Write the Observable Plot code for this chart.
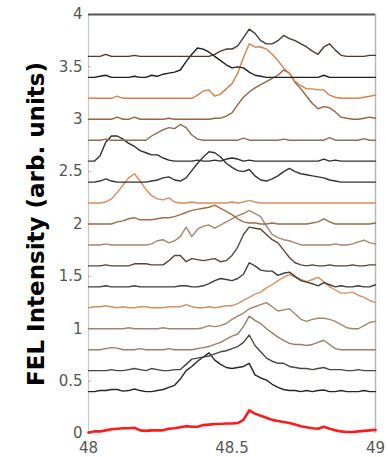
<!DOCTYPE html>
<html><head><meta charset="utf-8">
<script src="https://cdn.jsdelivr.net/npm/d3@7"></script>
<script src="https://cdn.jsdelivr.net/npm/@observablehq/plot@0.6"></script>
<style>body{margin:0;background:#fff}</style>
</head><body><div id="chart"></div>
<script>
const energy = [
48.00,48.02,48.04,48.06,48.08,48.10,48.12,48.14,48.16,48.18,
48.20,48.22,48.24,48.26,48.28,48.30,48.32,48.34,48.36,48.38,
48.40,48.42,48.44,48.46,48.48,48.50,48.52,48.54,48.56,48.58,
48.60,48.62,48.64,48.66,48.68,48.70,48.72,48.74,48.76,48.78,
48.80,48.82,48.84,48.86,48.88,48.90,48.92,48.94,48.96,48.98,49.00];

const offsets = [0, 0.4, 0.6, 0.8, 1.0, 1.2, 1.4, 1.6, 1.8, 2.0, 2.2, 2.4, 2.6, 2.8, 3.0, 3.2, 3.4, 3.6];
const colors = ["#ff1a1a","#262626","#4d4540","#9a7d6c","#a8846e","#d88f62","#3d3d3d","#5a4535","#a8866f",
                "#a46a48","#dc8a5c","#333333","#2e2e2e","#8c6c58","#9a6342","#d98048","#1f1f1f","#4a3a30"];

const s00 = [0.01,0.02,0.02,0.03,0.04,0.045,0.05,0.05,0.055,0.03,
0.025,0.03,0.03,0.03,0.045,0.05,0.06,0.07,0.065,0.065,
0.08,0.085,0.09,0.09,0.095,0.095,0.10,0.13,0.22,0.19,
0.17,0.15,0.13,0.12,0.11,0.10,0.085,0.07,0.06,0.05,
0.045,0.065,0.045,0.03,0.02,0.015,0.015,0.02,0.025,0.03,0.035];
const s04 = [0.00,0.00,0.01,0.01,0.02,0.02,0.005,0.01,0.025,0.01,
0.00,0.00,0.01,0.02,0.04,0.06,0.12,0.20,0.24,0.29,
0.33,0.37,0.30,0.26,0.23,0.22,0.23,0.24,0.27,0.16,
0.13,0.11,0.07,0.04,0.02,0.01,0.01,0.00,0.01,0.00,
0.01,0.015,0.00,0.00,0.01,0.00,0.00,0.00,0.01,0.00,0.00];
const s06 = [0.00,0.00,0.00,0.00,0.01,0.00,0.00,0.01,0.02,0.01,
0.00,0.02,0.01,0.00,0.00,0.01,0.01,0.06,0.11,0.12,
0.13,0.14,0.16,0.18,0.19,0.21,0.23,0.27,0.34,0.24,
0.18,0.12,0.09,0.07,0.07,0.04,0.03,0.02,0.02,0.01,
0.02,0.03,0.01,0.01,0.01,0.00,0.00,0.01,0.00,0.00,0.00];
const s08 = [0.00,0.00,0.00,0.01,0.02,0.015,0.00,0.00,0.00,0.01,
0.00,0.00,0.00,0.00,0.01,0.00,0.00,0.00,0.00,0.01,
0.02,0.03,0.05,0.07,0.10,0.13,0.15,0.22,0.32,0.28,
0.25,0.20,0.16,0.12,0.09,0.06,0.05,0.05,0.04,0.05,
0.07,0.09,0.05,0.01,0.00,0.00,0.00,0.00,0.00,0.00,0.00];
const s10 = [0.00,0.00,0.00,0.00,0.00,0.00,0.00,0.01,0.00,0.00,
0.00,0.00,0.00,0.01,0.00,0.00,0.00,0.00,0.00,0.00,
0.01,0.03,0.02,0.03,0.05,0.09,0.12,0.15,0.19,0.21,
0.23,0.25,0.21,0.17,0.18,0.19,0.14,0.09,0.07,0.09,
0.10,0.10,0.09,0.07,0.04,0.01,0.00,0.00,0.03,0.06,0.07];
const s12 = [0.00,0.01,0.01,0.02,0.01,0.00,0.01,0.00,0.00,0.01,
0.01,0.00,0.00,0.00,0.01,0.01,0.01,0.03,0.01,0.00,
0.00,0.01,0.00,0.01,0.02,0.02,0.04,0.07,0.10,0.13,
0.15,0.19,0.22,0.26,0.29,0.32,0.29,0.27,0.25,0.27,
0.29,0.25,0.20,0.17,0.14,0.14,0.15,0.12,0.10,0.07,0.05];
const s14 = [0.00,0.00,0.00,0.01,0.00,0.00,0.00,0.00,0.01,0.00,
0.00,0.00,0.00,0.00,0.00,0.00,0.01,0.01,0.00,0.00,
0.01,0.03,0.06,0.08,0.07,0.06,0.08,0.12,0.23,0.20,
0.16,0.15,0.15,0.11,0.13,0.14,0.10,0.06,0.045,0.03,
0.01,0.04,0.02,0.00,0.01,0.00,0.00,0.01,0.00,0.00,0.02];
const s16 = [0.00,0.00,0.00,0.01,0.00,0.00,0.00,0.00,0.02,0.02,
0.02,0.01,0.01,0.01,0.05,0.10,0.10,0.04,0.07,0.06,
0.05,0.06,0.07,0.04,0.05,0.10,0.18,0.30,0.37,0.36,
0.35,0.30,0.25,0.22,0.15,0.08,0.03,0.01,0.00,0.01,
0.00,0.00,0.01,0.00,0.00,0.00,0.01,0.00,0.00,0.01,0.01];
const s18 = [0.00,0.00,0.00,0.01,0.00,0.00,0.00,0.00,0.00,0.00,
0.00,0.01,0.04,0.05,0.02,0.04,0.08,0.17,0.08,0.15,
0.18,0.19,0.16,0.19,0.22,0.25,0.28,0.30,0.33,0.30,
0.27,0.18,0.10,0.07,0.05,0.04,0.02,0.00,0.00,0.00,
0.00,0.00,0.00,0.01,0.00,0.00,0.01,0.03,0.045,0.02,0.01];
const s20 = [0.00,0.00,0.00,0.00,0.00,0.02,0.03,0.05,0.06,0.04,
0.04,0.04,0.05,0.06,0.06,0.07,0.09,0.11,0.13,0.14,
0.15,0.16,0.18,0.15,0.12,0.09,0.05,0.02,0.01,0.01,
0.00,0.00,0.01,0.00,0.00,0.00,0.00,0.00,0.00,0.01,
0.02,0.05,0.02,0.00,0.00,0.00,0.00,0.00,0.00,0.00,0.01];
const s22 = [0.00,0.00,0.00,0.01,0.04,0.10,0.17,0.24,0.28,0.21,
0.13,0.07,0.04,0.03,0.05,0.01,0.00,0.00,0.01,0.00,
0.00,0.00,0.00,0.00,0.00,0.01,0.00,0.01,0.025,0.01,
0.00,0.00,0.00,0.00,0.00,0.00,0.00,0.00,0.00,0.00,
0.00,0.00,0.00,0.00,0.00,0.00,0.00,0.00,0.00,0.00,0.00];
const s24 = [0.00,0.00,0.01,0.03,0.01,0.00,0.00,0.00,0.00,0.00,
0.00,0.01,0.02,0.04,0.05,0.02,0.01,0.04,0.11,0.18,
0.24,0.29,0.28,0.24,0.18,0.14,0.11,0.10,0.12,0.06,
0.02,0.01,0.03,0.06,0.10,0.13,0.10,0.08,0.07,0.06,
0.05,0.04,0.02,0.01,0.00,0.00,0.00,0.00,0.00,0.00,0.00];
const s26 = [0.00,0.00,0.05,0.18,0.24,0.24,0.21,0.17,0.14,0.10,
0.08,0.06,0.06,0.03,0.01,0.00,0.00,0.00,0.00,0.01,
0.00,0.00,0.01,0.00,0.02,0.03,0.02,0.00,0.01,0.00,
0.00,0.00,0.00,0.00,0.00,0.00,0.00,0.00,0.00,0.00,
0.00,0.02,0.00,0.01,0.00,0.00,0.00,0.00,0.00,0.00,0.00];
const s28 = [0.00,0.00,0.00,0.01,0.00,0.00,0.00,0.00,0.00,0.00,
0.00,0.04,0.07,0.10,0.12,0.11,0.15,0.12,0.05,0.01,
0.00,0.00,0.00,0.00,0.00,0.00,0.00,0.02,0.00,0.00,
0.00,0.00,0.00,0.00,0.01,0.00,0.00,0.00,0.00,0.00,
0.00,0.00,0.025,0.00,0.00,0.00,0.00,0.00,0.015,0.00,0.00];
const s30 = [0.00,0.00,0.00,0.00,0.00,0.02,0.00,0.00,0.02,0.00,
0.00,0.00,0.00,0.00,0.01,0.00,0.00,0.00,0.00,0.00,
0.00,0.00,0.01,0.01,0.03,0.06,0.14,0.21,0.26,0.30,
0.33,0.36,0.39,0.42,0.47,0.44,0.35,0.29,0.22,0.15,
0.10,0.12,0.11,0.07,0.02,0.01,0.00,0.00,0.01,0.02,0.01];
const s32 = [0.00,0.00,0.00,0.00,0.00,0.02,0.00,0.00,0.00,0.00,
0.00,0.00,0.00,0.00,0.00,0.00,0.00,0.00,0.00,0.03,
0.07,0.08,0.02,0.04,0.09,0.14,0.24,0.39,0.52,0.49,
0.49,0.47,0.42,0.36,0.29,0.24,0.16,0.12,0.09,0.09,
0.08,0.08,0.03,0.01,0.00,0.00,0.00,0.00,0.01,0.02,0.03];
const s34 = [0.00,0.00,0.01,0.02,0.00,0.00,0.00,0.00,0.01,0.00,
0.00,0.02,0.01,0.03,0.04,0.05,0.07,0.15,0.22,0.28,
0.27,0.24,0.20,0.16,0.12,0.09,0.10,0.09,0.05,0.02,
0.01,0.00,0.00,0.00,0.00,0.00,0.00,0.00,0.00,0.00,
0.00,0.02,0.00,0.00,0.00,0.00,0.00,0.00,0.00,0.00,0.00];
const s36 = [0.00,0.00,0.00,0.02,0.00,0.00,0.00,0.00,0.01,0.00,
0.00,0.00,0.00,0.00,0.00,0.00,0.00,0.00,0.00,0.00,
0.00,0.00,0.02,0.05,0.07,0.07,0.10,0.18,0.26,0.22,
0.15,0.12,0.12,0.15,0.20,0.17,0.15,0.12,0.09,0.05,
0.02,0.09,0.12,0.06,0.01,0.00,0.00,0.00,0.00,0.01,0.01];

const spectra = [s00,s04,s06,s08,s10,s12,s14,s16,s18,s20,s22,s24,s26,s28,s30,s32,s34,s36];

const xTicks = [48, 48.5, 49];
const xTickLabels = ["48", "48.5", "49"];
const yTicks = [0, 0.5, 1, 1.5, 2, 2.5, 3, 3.5, 4];
const yTickLabels = ["0", "0.5", "1", "1.5", "2", "2.5", "3", "3.5", "4"];
const yLabel = "FEL Intensity (arb. units)";

const rows = [];
spectra.forEach((s, i) => s.forEach((v, j) => rows.push({x: energy[j], y: offsets[i] + v, k: i})));
const redRows = rows.filter(d => d.k === 0);
const otherRows = rows.filter(d => d.k !== 0);

const chart = Plot.plot({
  width: 388,
  height: 457,
  marginLeft: 88,
  marginRight: 13,
  marginTop: 14,
  marginBottom: 24,
  style: {fontFamily: "DejaVu Sans", fontSize: "15px", background: "#fff"},
  x: {domain: [48, 49], label: null},
  y: {domain: [0, 4], label: null},
  color: {type: "identity"},
  marks: [
    Plot.ruleX([48], {stroke: "#c8c8c8", strokeWidth: 1.2}),
    Plot.ruleX([49], {stroke: "#b8b8b8", strokeWidth: 1.5}),
    Plot.ruleY(yTicks, {x1: 48, x2: 48.01, stroke: "#aaa"}),
    Plot.line(otherRows, {x: "x", y: "y", z: "k", stroke: d => colors[d.k], strokeWidth: 1.4}),
    Plot.line(redRows, {x: "x", y: "y", stroke: colors[0], strokeWidth: 2.6}),
    Plot.ruleY([4], {stroke: "#555", strokeWidth: 2}),
    Plot.axisX(xTicks, {tickSize: 0, tickPadding: 9, tickFormat: (d, i) => xTickLabels[i], color: "#555", label: null}),
    Plot.axisY(yTicks, {tickSize: 0, tickPadding: 6, tickFormat: (d, i) => yTickLabels[i], color: "#555", label: null}),
    Plot.text([yLabel], {text: d => d, frameAnchor: "left", textAnchor: "middle", lineAnchor: "middle", dx: -52, rotate: -90, fontSize: 23, fontWeight: "bold", fontFamily: "DejaVu Sans", fill: "#000"})
  ]
});
document.getElementById("chart").appendChild(chart);
</script>
</body></html>
